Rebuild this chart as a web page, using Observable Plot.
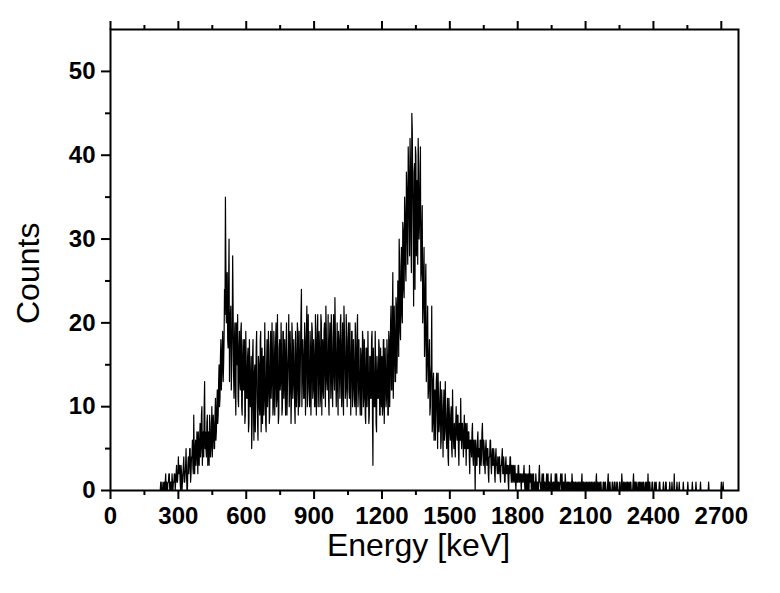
<!DOCTYPE html>
<html>
<head>
<meta charset="utf-8">
<script src="https://cdn.jsdelivr.net/npm/d3@7"></script>
<script src="https://cdn.jsdelivr.net/npm/@observablehq/plot@0.6"></script>
<style>
  html, body { margin: 0; padding: 0; background: #fff; }
  svg { display: block; }
</style>
</head>
<body>
<div id="chart"></div>
<script>
// Spectrum, 2 keV channels starting at 220 keV.
// countsA: channels at 220, 224, 228, ... keV; countsB: channels at 222, 226, 230, ... keV
const startEnergy = 220;
const channelWidth = 2;
const countsA = [
  0,1,0,1,0,0,2,1,0,1,2,0,1,2,0,1,2,1,3,1,4,2,1,3,0,
  2,4,1,3,2,0,4,3,5,2,4,3,9,2,6,4,5,7,3,8,5,10,6,4,13,
  7,4,9,6,3,8,5,10,6,8,5,11,7,12,9,15,11,18,14,19,15,24,35,20,26,
  17,30,19,22,15,28,14,18,12,20,15,11,17,13,19,10,16,12,18,9,15,11,17,8,14,
  12,5,16,10,14,7,17,11,6,15,9,19,12,8,16,11,14,7,18,12,15,9,19,13,16,
  10,17,12,20,11,15,9,18,13,16,10,19,14,12,17,9,15,21,12,16,11,18,13,15,8,
  16,12,19,14,10,17,24,13,16,11,18,14,22,12,15,10,17,13,19,12,16,10,18,14,21,
  13,17,11,20,15,12,19,14,22,13,16,11,18,15,21,12,17,14,23,13,16,12,19,14,20,
  13,17,11,22,15,12,18,14,20,11,16,13,19,12,15,10,17,13,21,12,14,9,16,12,18,
  11,15,8,17,12,14,9,16,11,19,3,13,10,15,7,14,11,17,9,13,16,10,18,12,14,
  11,16,9,18,13,22,12,26,15,19,13,22,17,24,30,19,26,21,32,24,35,27,38,30,41,
  33,42,30,45,36,22,39,41,28,37,42,30,36,25,31,20,26,16,24,13,19,11,16,9,14,
  22,8,14,10,6,13,9,14,7,11,5,12,8,10,6,13,7,9,4,11,7,9,5,12,6,
  8,4,10,6,9,3,7,11,5,8,4,9,6,3,8,5,7,2,6,4,8,3,6,0,5,
  3,7,4,2,6,4,8,3,5,2,6,3,5,1,4,6,2,5,3,4,1,5,3,4,2,
  4,1,3,5,2,3,1,4,2,3,0,2,4,1,3,2,1,3,0,2,1,3,1,2,0,
  2,1,3,0,1,2,0,1,3,1,0,2,1,0,1,2,0,1,0,3,1,0,2,1,0,
  1,0,2,1,0,1,0,2,1,0,1,0,1,2,0,1,0,1,0,2,0,1,0,1,0,
  0,1,0,0,1,2,0,1,0,1,0,0,1,0,1,0,2,0,1,0,0,1,0,1,0,
  1,0,0,1,0,1,0,2,0,0,1,0,1,0,0,1,0,1,0,0,2,0,1,0,0,
  1,0,1,0,0,1,0,0,1,0,2,0,1,0,0,1,0,0,1,0,1,0,0,2,0,
  0,1,0,1,0,0,1,0,0,1,0,1,0,0,2,0,1,0,0,1,0,0,0,1,0,
  0,0,1,0,0,0,1,0,0,1,0,0,0,1,0,0,0,0,2,0,0,1,0,0,0,
  0,0,0,1,0,0,0,0,1,0,0,0,0,1,0,0,0,1,0,0,0,0,1,0,0,
  0,0,0,0,0,0,1,0,0,0,0,0,0,0,0,0,0,0,0,0,1,0,1,0,0
];
const countsB = [
  1,0,0,0,1,1,0,0,1,2,0,1,0,1,1,2,0,2,1,2,2,3,0,2,1,
  3,1,2,5,0,3,2,5,1,4,6,2,4,5,3,7,2,5,6,4,9,3,7,10,5,
  5,8,3,7,9,4,7,4,9,5,9,6,10,8,13,10,16,12,17,13,18,21,27,23,18,
  24,13,21,12,19,22,11,20,9,17,21,10,19,12,20,9,18,14,8,19,11,16,7,18,10,
  16,8,18,6,15,12,19,8,16,10,18,7,17,14,9,20,8,15,10,19,8,17,11,20,9,
  19,9,18,10,21,8,17,12,20,9,19,11,18,9,20,12,17,10,19,8,20,11,18,10,19,
  10,20,9,19,12,21,10,18,11,20,9,19,10,21,12,19,9,20,11,18,10,21,9,19,10,
  19,10,21,9,18,11,20,10,19,12,21,9,20,11,18,10,21,12,19,10,20,9,18,11,21,
  10,20,9,19,11,21,10,18,12,20,9,19,10,18,11,20,9,19,10,18,11,17,9,19,10,
  18,9,17,10,19,8,16,11,18,9,17,10,19,8,16,11,18,9,17,10,9,18,8,17,10,
  18,9,19,10,20,12,21,11,22,13,23,14,25,16,27,18,29,20,31,23,33,25,36,27,38,
  28,39,26,43,30,38,24,40,33,27,39,32,41,26,34,22,29,18,27,15,22,12,18,10,15,
  7,13,6,12,9,14,5,11,8,13,6,10,4,12,7,9,5,11,3,9,6,10,4,8,5,
  6,8,7,9,5,8,6,7,8,6,7,5,8,6,5,7,4,6,5,7,4,6,4,6,3,
  6,4,5,6,3,7,5,6,3,5,4,5,2,4,6,3,4,3,5,2,4,3,2,3,4,
  2,3,4,2,4,1,3,2,3,1,3,4,2,3,1,3,2,1,2,1,3,1,2,1,2,
  1,2,1,2,0,1,2,0,1,2,1,0,2,1,0,1,1,0,2,1,0,1,0,2,1,
  0,1,0,2,1,0,1,0,0,1,0,2,0,1,1,0,1,2,1,0,1,0,2,0,1,
  1,0,1,0,0,1,1,0,1,0,1,0,0,1,0,1,0,1,0,1,0,0,1,0,1,
  0,1,0,0,1,0,1,0,1,0,0,1,0,0,1,0,1,0,0,1,0,1,0,0,1,
  0,0,1,0,1,0,0,1,0,0,1,0,0,1,0,0,1,0,0,1,0,0,1,0,1,
  1,0,0,0,1,0,0,1,0,0,0,0,1,0,0,1,0,0,1,0,0,1,0,0,0,
  0,1,0,0,0,0,0,0,1,0,0,0,0,0,0,1,0,0,0,0,0,0,0,1,0,
  0,0,0,0,0,0,0,0,0,0,0,0,0,0,0,0,0,0,0,0,0,0,0,0,0,
  0,0,0,0,0,0,0,0,0,0,0,0,0,0,0,0,0,0,0,0,0,0,0,0,0
];

const xMajorTicks = [0, 300, 600, 900, 1200, 1500, 1800, 2100, 2400, 2700];
const xMinorTicks = [150, 450, 750, 1050, 1350, 1650, 1950, 2250, 2550];
const yMajorTicks = [0, 10, 20, 30, 40, 50];
const yMinorTicks = [5, 15, 25, 35, 45];
const xLabel = "Energy [keV]";
const yLabel = "Counts";

// interleave the two channel lists into one spectrum
const data = [];
countsA.forEach((c, i) => {
  data.push({energy: startEnergy + (2 * i) * channelWidth, counts: c});
  data.push({energy: startEnergy + (2 * i + 1) * channelWidth, counts: countsB[i]});
});
const blank = () => "";
const plain = d => String(d);
const font = "Arial, 'Liberation Sans', Helvetica, sans-serif";

const chart = Plot.plot({
  width: 780,
  height: 593,
  marginLeft: 110,
  marginRight: 42,
  marginTop: 29,
  marginBottom: 103,
  style: {fontFamily: font, background: "#fff", color: "#000"},
  x: {domain: [0, 2776]},
  y: {domain: [0, 55]},
  marks: [
    Plot.lineY(data, {x: "energy", y: "counts", stroke: "#000", strokeWidth: 1.2}),
    Plot.axisX({ticks: xMajorTicks, tickSize: 9, tickPadding: 7, strokeWidth: 2, fontSize: 24, fontWeight: "bold", fill: "#000", tickFormat: plain, label: null}),
    Plot.axisX({ticks: xMinorTicks, tickSize: 5, strokeWidth: 2, tickFormat: blank, label: null}),
    Plot.axisX({anchor: "top", ticks: xMajorTicks, tickSize: 9, strokeWidth: 2, tickFormat: blank, label: null}),
    Plot.axisX({anchor: "top", ticks: xMinorTicks, tickSize: 5, strokeWidth: 2, tickFormat: blank, label: null}),
    Plot.axisY({ticks: yMajorTicks, tickSize: 9, tickPadding: 6, strokeWidth: 2, fontSize: 24, fontWeight: "bold", fill: "#000", tickFormat: plain, label: null}),
    Plot.axisY({ticks: yMinorTicks, tickSize: 5, strokeWidth: 2, tickFormat: blank, label: null}),
    Plot.frame({stroke: "#000", strokeWidth: 2}),
    Plot.text([xLabel], {text: d => d, frameAnchor: "bottom", dx: -6, dy: 65, fontSize: 32, fill: "#000"}),
    Plot.text([yLabel], {text: d => d, frameAnchor: "left", rotate: -90, dx: -82, dy: 64, fontSize: 32, fill: "#000"})
  ]
});
document.getElementById("chart").appendChild(chart);
</script>
</body>
</html>
